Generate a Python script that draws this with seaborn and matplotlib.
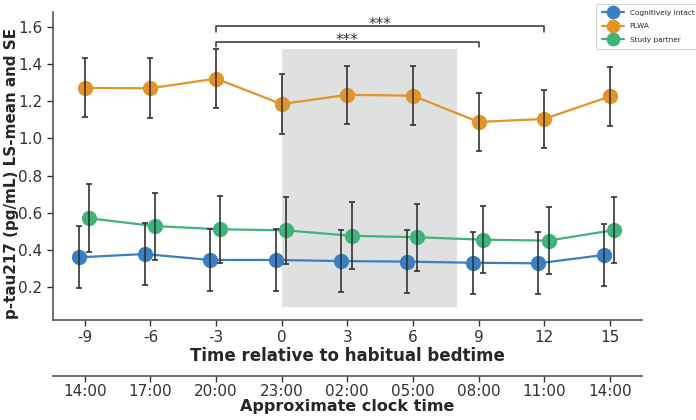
import numpy as np
import pandas as pd
import matplotlib
matplotlib.use("Agg")
import matplotlib.pyplot as plt
import seaborn as sns

# ---- data ----
time_rel = [-9, -6, -3, 0, 3, 6, 9, 12, 15]
clock_labels = ["14:00", "17:00", "20:00", "23:00", "02:00", "05:00", "08:00", "11:00", "14:00"]
groups = ["Cognitively intact", "PLWA", "Study partner"]

intact_mean = [0.361, 0.379, 0.347, 0.347, 0.341, 0.338, 0.332, 0.329, 0.374]
intact_se = [0.166, 0.166, 0.166, 0.165, 0.166, 0.168, 0.166, 0.167, 0.167]
plwa_mean = [1.272, 1.270, 1.322, 1.185, 1.235, 1.230, 1.089, 1.105, 1.226]
plwa_se = [0.158, 0.160, 0.157, 0.160, 0.157, 0.157, 0.157, 0.158, 0.157]
partner_mean = [0.571, 0.529, 0.512, 0.506, 0.477, 0.469, 0.456, 0.451, 0.508]
partner_se = [0.183, 0.180, 0.179, 0.180, 0.179, 0.181, 0.180, 0.181, 0.179]

offsets = [-0.27, 0.0, 0.2]
colors = ["#3a7fc1", "#e39428", "#3fb47a"]

means = [intact_mean, plwa_mean, partner_mean]
ses = [intact_se, plwa_se, partner_se]

rows = []
for g, off, m, s in zip(groups, offsets, means, ses):
    for t, mv, sv in zip(time_rel, m, s):
        rows.append({"group": g, "x": t + off, "mean": mv, "se": sv})
df = pd.DataFrame(rows)

sns.set_style("white")
plt.rcParams['font.family'] = ['DejaVu Sans']

fig = plt.figure(figsize=(6.96, 4.2), dpi=100)
ax = fig.add_axes([0.076, 0.238, 0.846, 0.733])

# shaded sleep window
ax.fill_between([0, 8], 0.095, 1.483, color="#dfe1e1", zorder=0, linewidth=0)

sns.lineplot(data=df, x="x", y="mean", hue="group", hue_order=groups,
             palette=colors, marker="o", markersize=11, markeredgewidth=0,
             linewidth=1.6, ax=ax, zorder=2)

for g in groups:
    sub = df[df.group == g]
    ax.errorbar(sub["x"], sub["mean"], yerr=sub["se"], fmt="none",
                ecolor="#333333", elinewidth=1.2, capsize=2, capthick=1.2, zorder=3)

ax.set_xlim(-10.46, 16.46)
ax.set_ylim(0.024, 1.679)
ax.set_xticks(time_rel)
ax.set_xticklabels([str(t) for t in time_rel])
ax.set_yticks([0.2, 0.4, 0.6, 0.8, 1.0, 1.2, 1.4, 1.6])
ax.tick_params(axis="both", labelsize=11, colors="#333333", length=4, width=1,
               direction="out", bottom=True, left=True)
for sp in ["top", "right"]:
    ax.spines[sp].set_visible(False)
for sp in ["left", "bottom"]:
    ax.spines[sp].set_color("#555555")
    ax.spines[sp].set_linewidth(1.2)

ax.set_xlabel("Time relative to habitual bedtime", fontsize=12, fontweight="bold", labelpad=1)
ax.set_ylabel("p-tau217 (pg/mL) LS-mean and SE", fontsize=10.9, fontweight="bold")
ax.yaxis.set_label_coords(-0.058, 0.475)

# significance brackets
def bracket(x1, x2, y, h, text):
    ax.plot([x1, x1, x2, x2], [y - h, y, y, y - h], color="#333333", lw=1.1, zorder=4)
    ax.text((x1 + x2) / 2, y - 0.016, text, ha="center", va="baseline", fontsize=11, color="#333333")

bracket(-3, 12, 1.607, 0.032, "***")
bracket(-3, 9, 1.52, 0.028, "***")

# secondary clock-time axis
sec = ax.secondary_xaxis(-0.182)
sec.set_xticks(time_rel)
sec.set_xticklabels(clock_labels)
sec.tick_params(labelsize=11, colors="#333333", length=4, width=1, pad=2)
sec.spines["bottom"].set_color("#555555")
sec.spines["bottom"].set_linewidth(1.2)
sec.set_xlabel("Approximate clock time", fontsize=11.5, fontweight="bold", labelpad=0)

leg = ax.legend(loc="upper left", bbox_to_anchor=(592 / 696, 1.0),
                bbox_transform=fig.transFigure, fontsize=5.3, frameon=True,
                handlelength=3.0, labelspacing=1.0, borderpad=0.8, markerscale=0.9)
leg.get_frame().set_edgecolor("#cccccc")
leg.get_frame().set_linewidth(0.8)

fig.savefig("out.png", dpi=100)
